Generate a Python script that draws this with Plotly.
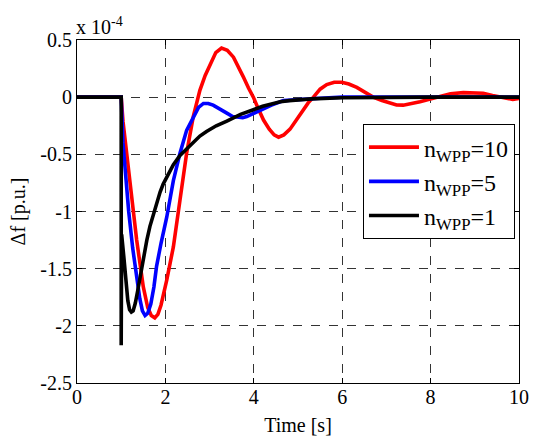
import plotly.graph_objects as go

# Time [s] and frequency deviation (x 1e-4 p.u.)
t_red = [0, 1.0, 1.04, 1.2, 1.35, 1.5, 1.6, 1.68, 1.76, 1.83, 1.9, 2.03, 2.18, 2.33, 2.48, 2.63, 2.78,
         2.9, 3.01, 3.14, 3.27, 3.4, 3.54, 3.65, 3.76, 3.88, 3.99, 4.1, 4.22, 4.35, 4.46, 4.56, 4.68,
         4.82, 4.97, 5.12, 5.23, 5.35, 5.5, 5.65, 5.82, 5.99, 6.15, 6.33, 6.5, 6.7, 6.9, 7.08, 7.23,
         7.38, 7.55, 7.76, 7.95, 8.14, 8.45, 8.74, 9.0, 9.19, 9.4, 9.57, 9.75, 9.86, 10]
v_red = [0, 0, -0.21, -0.73, -1.25, -1.66, -1.84, -1.91, -1.93, -1.90, -1.82, -1.6, -1.31, -0.90, -0.49, -0.17, 0.06,
         0.19, 0.29, 0.39, 0.43, 0.41, 0.35, 0.27, 0.18, 0.08, 0.0, -0.1, -0.2, -0.28, -0.33, -0.35, -0.33,
         -0.28, -0.2, -0.11, -0.05, 0.0, 0.07, 0.11, 0.13, 0.13, 0.115, 0.085, 0.045, 0.0, -0.03, -0.055, -0.068,
         -0.07, -0.06, -0.04, -0.02, 0.0, 0.03, 0.04, 0.04, 0.035, 0.015, 0.0, -0.015, -0.02, -0.01]

t_blue = [0, 1.0, 1.04, 1.1, 1.17, 1.26, 1.36, 1.42, 1.48, 1.54, 1.6, 1.67, 1.74, 1.80, 1.9, 2.03,
          2.18, 2.33, 2.48, 2.63, 2.75, 2.86, 2.97, 3.08, 3.24, 3.39, 3.52, 3.65, 3.75, 3.84, 3.95,
          4.07, 4.25, 4.4, 4.67, 5.0, 5.5, 6, 7, 8, 9, 10]
v_blue = [0, 0, -0.40, -0.7, -1.0, -1.32, -1.6, -1.76, -1.87, -1.91, -1.89, -1.81, -1.66, -1.48, -1.28, -1.05,
          -0.73, -0.49, -0.29, -0.17, -0.09, -0.055, -0.055, -0.07, -0.11, -0.14, -0.17, -0.18, -0.18, -0.17, -0.15,
          -0.13, -0.1, -0.07, -0.03, -0.02, -0.01, 0, 0, 0, 0, 0]

t_black = [0, 1.0, 1.0, 1.01, 1.06, 1.1, 1.15, 1.19, 1.23, 1.27, 1.32, 1.37, 1.425, 1.5, 1.58, 1.65,
           1.73, 1.8, 1.88, 1.95, 2.03, 2.1, 2.18, 2.33, 2.48, 2.63, 2.78, 2.93, 3.15, 3.39, 3.7,
           3.99, 4.2, 4.4, 4.6, 4.8, 5.3, 6, 7, 8, 9, 10]
v_black = [0, 0, -2.17, -1.2, -1.4, -1.6, -1.78, -1.86, -1.88, -1.87, -1.80, -1.70, -1.57, -1.41, -1.25, -1.13,
           -1.02, -0.92, -0.83, -0.76, -0.70, -0.64, -0.59, -0.51, -0.45, -0.39, -0.34, -0.30, -0.25, -0.21, -0.15,
           -0.11, -0.08, -0.06, -0.04, -0.03, -0.015, -0.005, 0, 0, 0, 0]

names = ["n<sub>WPP</sub>=10", "n<sub>WPP</sub>=5", "n<sub>WPP</sub>=1"]
colors = ["#ff0000", "#0000ff", "#000000"]

x_ticks = [0, 2, 4, 6, 8, 10]
y_ticks = [0.5, 0, -0.5, -1, -1.5, -2, -2.5]
y_ticklabels = ["0.5", "0", "-0.5", "-1", "-1.5", "-2", "-2.5"]

FONT = "Liberation Serif, Times New Roman, serif"

fig = go.Figure()
for t, v, n, c in zip([t_red, t_blue, t_black], [v_red, v_blue, v_black], names, colors):
    fig.add_trace(go.Scatter(x=t, y=v, name=n, mode="lines",
                             line=dict(color=c, width=3.6)))

axis_common = dict(
    showline=True, linecolor="black", linewidth=1, mirror="ticks",
    ticks="inside", ticklen=5, tickcolor="black", tickwidth=1,
    showgrid=True, gridcolor="#333333", gridwidth=0.8, griddash="dash",
    zeroline=False, automargin=False,
    tickfont=dict(family=FONT, size=20, color="black"),
)

fig.update_xaxes(range=[0, 10], tickvals=x_ticks, ticktext=[str(v) for v in x_ticks],
                 ticklabelstandoff=-4,
                 title=dict(text="Time [s]", font=dict(family=FONT, size=20, color="black"), standoff=10),
                 **axis_common)
fig.update_yaxes(range=[-2.5, 0.5], tickvals=y_ticks, ticktext=y_ticklabels,
                 title=dict(text="Δf [p.u.]", font=dict(family=FONT, size=20, color="black"), standoff=9),
                 **axis_common)

fig.add_annotation(xref="paper", yref="paper", x=0.0, y=1.0, xanchor="left", yanchor="bottom",
                   text="x 10<sup>-4</sup>", showarrow=False, yshift=0, xshift=-3,
                   font=dict(family=FONT, size=20, color="black"))

fig.update_layout(
    width=537, height=436,
    margin=dict(l=77, r=18, t=40, b=53),
    plot_bgcolor="white", paper_bgcolor="white",
    font=dict(family=FONT, size=20, color="black"),
    legend=dict(x=0.647, y=0.755, xanchor="left", yanchor="top",
                bgcolor="white", bordercolor="black", borderwidth=1,
                font=dict(family=FONT, size=24, color="black"),
                itemwidth=50, tracegroupgap=0),
    showlegend=True,
)

fig.write_html("out.html", config={"displayModeBar": False},
               post_script="document.body.style.margin='0';document.body.style.overflow='hidden';")
